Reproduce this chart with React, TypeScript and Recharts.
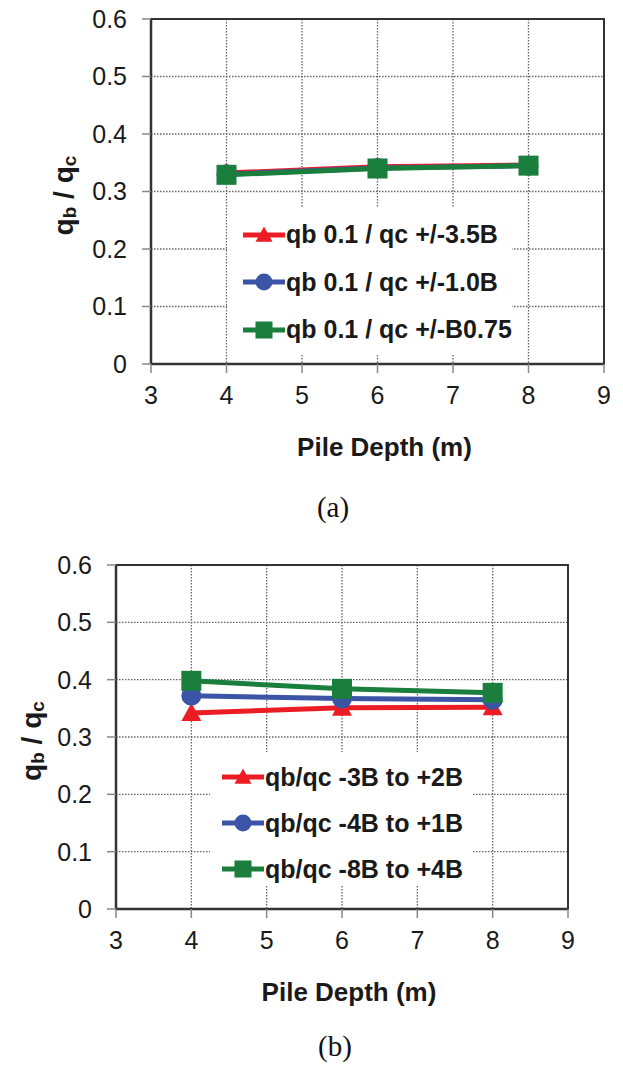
import {
  LineChart,
  Line,
  XAxis,
  YAxis,
  CartesianGrid,
  Legend,
  ReferenceArea,
} from "recharts";

const DEPTHS = [4, 6, 8];
const X_TICKS = [3, 4, 5, 6, 7, 8, 9];
const Y_TICKS = [0, 0.1, 0.2, 0.3, 0.4, 0.5, 0.6];

// panel (a)
const NAMES_A = ["qb 0.1 / qc +/-3.5B", "qb 0.1 / qc +/-1.0B", "qb 0.1 / qc +/-B0.75"];
const RED_A = [0.332, 0.343, 0.346];
const BLUE_A = [0.33, 0.341, 0.345];
const GREEN_A = [0.329, 0.34, 0.345];

// panel (b)
const NAMES_B = ["qb/qc -3B to +2B", "qb/qc -4B to +1B", "qb/qc -8B to +4B"];
const RED_B = [0.342, 0.351, 0.352];
const BLUE_B = [0.372, 0.367, 0.365];
const GREEN_B = [0.398, 0.384, 0.377];

const KEYS = ["red", "blue", "green"];
const COLORS = ["#ec1c24", "#3b54a5", "#1a7f3c"];
const SHAPES = ["triangle", "circle", "square"];

const FONT = "'Liberation Sans', Arial, sans-serif";

function toRows(red: number[], blue: number[], green: number[]) {
  return DEPTHS.map((d, i) => ({ depth: d, red: red[i], blue: blue[i], green: green[i] }));
}

function Marker({ shape, cx, cy, color, size }: any) {
  const h = size / 2;
  if (shape === "triangle")
    return (
      <polygon
        points={`${cx},${cy - h} ${cx + h},${cy + h * 0.8} ${cx - h},${cy + h * 0.8}`}
        fill={color}
      />
    );
  if (shape === "circle") return <circle cx={cx} cy={cy} r={h} fill={color} />;
  return <rect x={cx - h} y={cy - h} width={size} height={size} fill={color} />;
}

function LegendBox({ names, box }: any) {
  return (
    <div
      style={{
        background: "#fff",
        width: box.width,
        height: box.height,
        paddingTop: box.padTop,
        paddingLeft: box.padLeft,
        boxSizing: "border-box",
        fontFamily: FONT,
        fontWeight: "bold",
        fontSize: 25,
        color: "#1a1a1a",
      }}
    >
      {names.map((n: string, i: number) => (
        <div key={n} style={{ display: "flex", alignItems: "center", height: box.rowH }}>
          <svg width={42} height={22} style={{ marginRight: 1 }}>
            <line x1={0} y1={11} x2={42} y2={11} stroke={COLORS[i]} strokeWidth={5} />
            <Marker shape={SHAPES[i]} cx={21} cy={11} color={COLORS[i]} size={17} />
          </svg>
          <span style={{ whiteSpace: "nowrap" }}>{n}</span>
        </div>
      ))}
    </div>
  );
}

function Panel({ rows, names, cfg }: any) {
  const xTitle = (props: any) => {
    const vb = props.viewBox;
    return (
      <text
        x={vb.x + vb.width / 2 + 7}
        y={vb.y + 83}
        textAnchor="middle"
        dominantBaseline="central"
        fontFamily={FONT}
        fontWeight="bold"
        fontSize={26}
        fill="#1a1a1a"
      >
        Pile Depth (m)
      </text>
    );
  };
  const yTitle = (props: any) => {
    const vb = props.viewBox;
    const x = cfg.yLabelX;
    const y = vb.y + vb.height / 2 + 4;
    return (
      <text
        x={x}
        y={y}
        transform={`rotate(-90 ${x} ${y})`}
        textAnchor="middle"
        dominantBaseline="central"
        fontFamily={FONT}
        fontWeight="bold"
        fontSize={28}
        fill="#1a1a1a"
      >
        <tspan>q</tspan>
        <tspan fontSize={19} dy={6}>b</tspan>
        <tspan dy={-6}> / q</tspan>
        <tspan fontSize={19} dy={6}>c</tspan>
      </text>
    );
  };

  return (
    <LineChart
      width={623}
      height={500}
      data={rows}
      margin={cfg.margin}
      style={{ fontFamily: FONT }}
    >
      <CartesianGrid stroke="#666" strokeDasharray="1.5 1.5" strokeWidth={1.3} />
      <XAxis
        type="number"
        dataKey="depth"
        domain={[3, 9]}
        ticks={X_TICKS}
        allowDataOverflow
        height={70}
        tickSize={9}
        tickMargin={13}
        axisLine={{ stroke: "#333", strokeWidth: 2.5 }}
        tickLine={{ stroke: "#888", strokeWidth: 1.5 }}
        tick={{ fill: "#1a1a1a", fontSize: 25 }}
        label={xTitle}
      />
      <YAxis
        type="number"
        domain={[0, 0.6]}
        ticks={Y_TICKS}
        allowDataOverflow
        width={cfg.yWidth}
        tickSize={9}
        tickMargin={15}
        tickFormatter={(v: number) => (v === 0 ? "0" : v.toFixed(1))}
        axisLine={{ stroke: "#333", strokeWidth: 2.5 }}
        tickLine={{ stroke: "#888", strokeWidth: 1.5 }}
        tick={{ fill: "#1a1a1a", fontSize: 25 }}
        label={yTitle}
      />
      <ReferenceArea x1={3} x2={9} y1={0} y2={0.6} fill="none" stroke="#333" strokeWidth={2} />
      {KEYS.map((k, i) => (
        <Line
          key={k}
          dataKey={k}
          name={names[i]}
          stroke={COLORS[i]}
          strokeWidth={5}
          isAnimationActive={false}
          dot={(p: any) => (
            <Marker
              key={`${k}-${p.index}`}
              shape={SHAPES[i]}
              cx={p.cx}
              cy={p.cy}
              color={COLORS[i]}
              size={20}
            />
          )}
        />
      ))}
      <Legend
        layout="vertical"
        align="center"
        verticalAlign="middle"
        wrapperStyle={{ left: cfg.legend.left, top: cfg.legend.top, width: cfg.legend.width }}
        content={() => <LegendBox names={names} box={cfg.legend} />}
      />
    </LineChart>
  );
}

const CFG_A = {
  margin: { top: 19, right: 19, left: 0, bottom: 66 },
  yWidth: 151,
  yLabelX: 63,
  legend: { left: 227, top: 208, width: 285, height: 147, padLeft: 16, padTop: 3, rowH: 47.5 },
};

const CFG_B = {
  margin: { top: 35, right: 55, left: 0, bottom: 51 },
  yWidth: 116,
  yLabelX: 31,
  legend: { left: 210, top: 222, width: 262, height: 133, padLeft: 12, padTop: 2, rowH: 46 },
};

const caption = {
  position: "absolute" as const,
  fontFamily: "'Liberation Serif', 'Times New Roman', serif",
  fontSize: 29,
  color: "#111",
  transform: "translate(-50%, -50%)",
  lineHeight: 1,
};

export default function App() {
  return (
    <div style={{ position: "absolute", left: 0, top: 0, width: 623, height: 1066, background: "#fff" }}>
      <div style={{ position: "absolute", left: 0, top: 0 }}>
        <Panel rows={toRows(RED_A, BLUE_A, GREEN_A)} names={NAMES_A} cfg={CFG_A} />
      </div>
      <div style={{ ...caption, left: 333, top: 507 }}>(a)</div>
      <div style={{ position: "absolute", left: 0, top: 530 }}>
        <Panel rows={toRows(RED_B, BLUE_B, GREEN_B)} names={NAMES_B} cfg={CFG_B} />
      </div>
      <div style={{ ...caption, left: 335, top: 1046 }}>(b)</div>
    </div>
  );
}
